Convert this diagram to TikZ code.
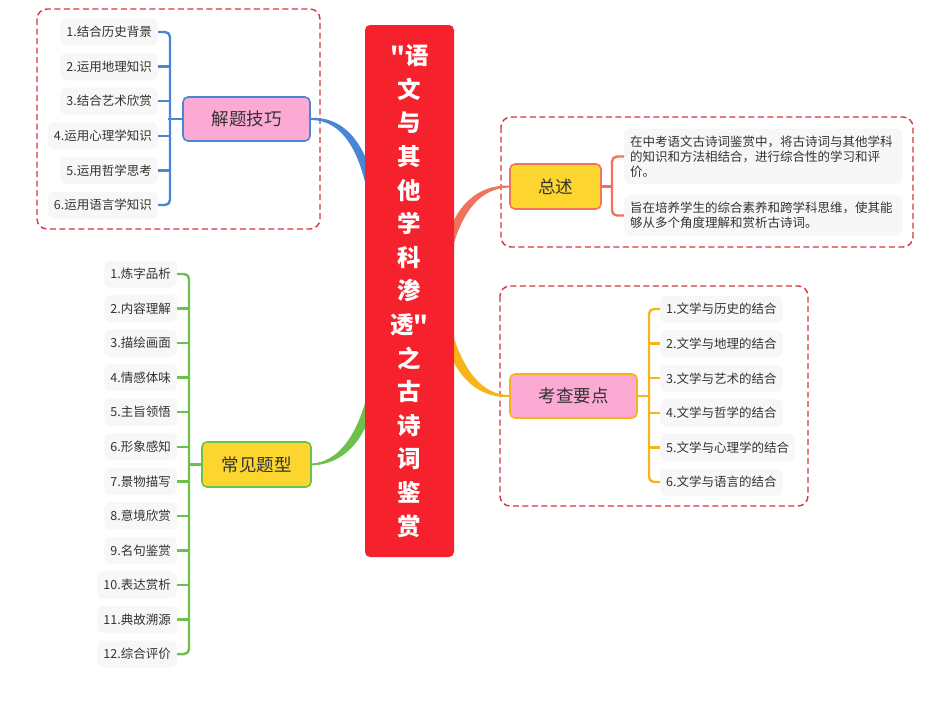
\documentclass[tikz,border=0pt]{standalone}
\usepackage{fontspec}
\setmainfont{Noto Sans CJK SC}
\newfontfamily\ctrfont{Noto Sans CJK SC}
\usetikzlibrary{calc}
\definecolor{cred}{HTML}{F5222D}
\definecolor{cblue}{HTML}{4A86D6}
\definecolor{csalmon}{HTML}{F2735C}
\definecolor{cgold}{HTML}{F7B519}
\definecolor{cgreen}{HTML}{6DC04C}
\definecolor{cpink}{HTML}{FCA9D3}
\definecolor{cyellow}{HTML}{FCD62F}
\definecolor{cdash}{HTML}{D4363F}
\definecolor{leafgray}{HTML}{F7F7F7}
\definecolor{txt}{HTML}{333333}
\begin{document}
\begin{tikzpicture}[x=1pt,y=-1pt,
  leaf/.style={rounded corners=6pt, fill=leafgray, text=txt,
    font=\fontsize{12.5}{15}\selectfont, minimum height=27pt,
    inner xsep=6pt, inner ysep=0pt},
  para/.style={rounded corners=6pt, fill=leafgray, text=txt,
    font=\fontsize{12.5}{15}\selectfont, text width=266pt, align=left,
    inner xsep=6pt, inner ysep=7pt, anchor=west},
  mainbox/.style={rounded corners=5pt, line width=1.6pt, text=txt,
    font=\fontsize{17.5}{20}\selectfont, minimum height=44pt},
  bracket/.style={line width=2.4pt, rounded corners=5pt},
  stub/.style={line width=2.4pt},
  dashbox/.style={draw=cdash, line width=1.4pt, dash pattern=on 6pt off 3.5pt,
    rounded corners=10pt}
]
\useasboundingbox (0,0) rectangle (950,715);
\fill[white] (0,0) rectangle (950,715);

% dashed frames
\draw[dashbox] (37,9) rectangle (320,229);
\draw[dashbox] (501,117) rectangle (913,247);
\draw[dashbox] (500,286) rectangle (808,506);

% main branch nodes
\node[mainbox, draw=cblue, fill=cpink, minimum width=127pt] (jq) at (246.5,119) {解题技巧};
\node[mainbox, draw=csalmon, fill=cyellow, minimum width=91pt, minimum height=45pt] (zs) at (555.5,186.5) {总述};
\node[mainbox, draw=cgold, fill=cpink, minimum width=127pt] (kc) at (573.5,396) {考查要点};
\node[mainbox, draw=cgreen, fill=cyellow, minimum width=109pt, minimum height=45pt] (cj) at (256.5,464.5) {常见题型};

% tapered connectors to the centre
\fill[cblue] ($(jq.east)+(0,-1)$) .. controls (347,116) and (366,148) .. (374,184)
  -- (366,186) .. controls (358,152) and (343,120) .. ($(jq.east)+(0,1)$) -- cycle;
\fill[csalmon] (444,246) .. controls (455,206) and (476,185) .. ($(zs.west)+(0,-1)$)
  -- ($(zs.west)+(0,1)$) .. controls (480,188) and (462,212) .. (452,250) -- cycle;
\fill[cgold] (452,332) .. controls (464,372) and (483,395) .. ($(kc.west)+(0,-1)$)
  -- ($(kc.west)+(0,1)$) .. controls (478,398) and (456,378) .. (444,338) -- cycle;
\fill[cgreen] (375,400) .. controls (364,444) and (342,464) .. ($(cj.east)+(0,1)$)
  -- ($(cj.east)+(0,-1)$) .. controls (337,462) and (356,438) .. (367,396) -- cycle;

% centre node
\node[fill=cred, rounded corners=5pt, minimum width=89pt, minimum height=532pt,
  text=white, align=center, inner sep=0pt,
  font=\ctrfont\fontsize{23.5}{33.6}\selectfont\bfseries] (ctr) at (409.5,291)
  {"语\\文\\与\\其\\他\\学\\科\\渗\\透"\\之\\古\\诗\\词\\鉴\\赏};

% 解题技巧 leaves
\foreach \t [count=\i from 0] in {1.结合历史背景,2.运用地理知识,3.结合艺术欣赏,4.运用心理学知识,5.运用哲学思考,6.运用语言学知识}
  \node[leaf, anchor=east] (b\i) at (158,32+34.6*\i) {\t};
\draw[bracket, cblue] (b0.east) -- ($(b0.east)+(12,0)$) -- ($(b5.east)+(12,0)$) -- (b5.east);
\foreach \i in {1,...,4} \draw[stub, cblue] (b\i.east) -- ++(12,0);
\draw[stub, cblue] (jq.west) -- ++(-14,0);

% 总述 leaves
\node[para] (z0) at (624,156.5) {在中考语文古诗词鉴赏中，将古诗词与其他学科\\的知识和方法相结合，进行综合性的学习和评\\价。};
\node[para] (z1) at (624,215.5) {旨在培养学生的综合素养和跨学科思维，使其能\\够从多个角度理解和赏析古诗词。};
\draw[bracket, csalmon] (z0.west) -- ($(z0.west)+(-12,0)$) -- ($(z1.west)+(-12,0)$) -- (z1.west);
\draw[stub, csalmon] (zs.east) -- ++(11,0);

% 考查要点 leaves
\foreach \t [count=\i from 0] in {1.文学与历史的结合,2.文学与地理的结合,3.文学与艺术的结合,4.文学与哲学的结合,5.文学与心理学的结合,6.文学与语言的结合}
  \node[leaf, anchor=west] (k\i) at (660,309+34.6*\i) {\t};
\draw[bracket, cgold] (k0.west) -- ($(k0.west)+(-11,0)$) -- ($(k5.west)+(-11,0)$) -- (k5.west);
\foreach \i in {1,...,4} \draw[stub, cgold] (k\i.west) -- ++(-11,0);
\draw[stub, cgold] (kc.east) -- ++(12,0);

% 常见题型 leaves
\foreach \t [count=\i from 0] in {1.炼字品析,2.内容理解,3.描绘画面,4.情感体味,5.主旨领悟,6.形象感知,7.景物描写,8.意境欣赏,9.名句鉴赏,10.表达赏析,11.典故溯源,12.综合评价}
  \node[leaf, anchor=east] (g\i) at (177,274+34.55*\i) {\t};
\draw[bracket, cgreen] (g0.east) -- ($(g0.east)+(12,0)$) -- ($(g11.east)+(12,0)$) -- (g11.east);
\foreach \i in {1,...,10} \draw[stub, cgreen] (g\i.east) -- ++(12,0);
\draw[stub, cgreen] (cj.west) -- ++(-13,0);
\end{tikzpicture}
\end{document}
